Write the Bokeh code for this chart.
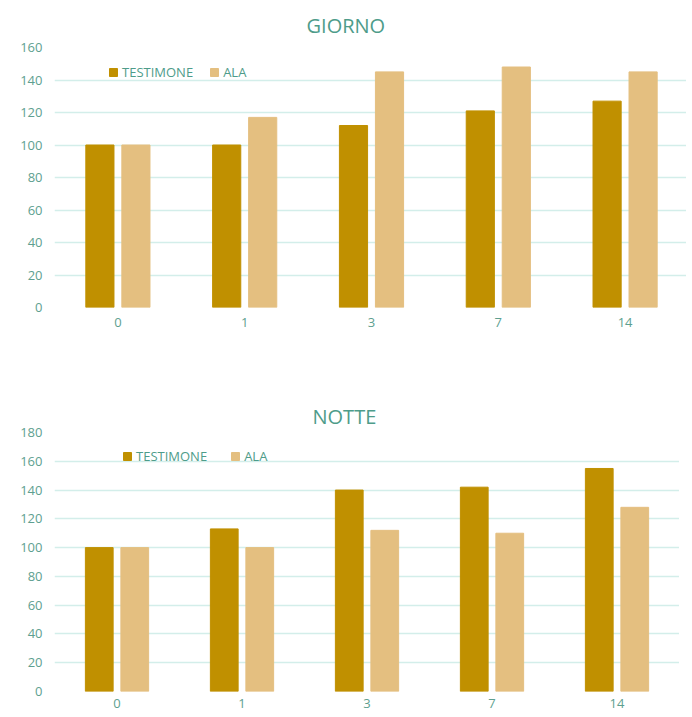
from bokeh.plotting import figure
from bokeh.layouts import column
from bokeh.models import FactorRange, Range1d, SingleIntervalTicker, ColumnDataSource
from bokeh.transform import dodge
from bokeh.embed import file_html
from bokeh.resources import INLINE

days = ["0", "1", "3", "7", "14"]
giorno_testimone = [100, 100, 112, 121, 127]
giorno_ala = [100, 117, 145, 148, 145]
notte_testimone = [100, 113, 140, 142, 155]
notte_ala = [100, 100, 112, 110, 128]

C_T = "#C09000"
C_A = "#E4BF80"
TXT = "#4E9C8A"
TICK = "#5E9F90"
GRID = "#D3EEEA"
FONT = "Open Sans"


def make_chart(title, testimone, ala, ymax, height, border_top, frame_h,
               border_left, frame_w, title_standoff, title_offset, leg_loc,
               leg_spacing, x_standoff):
    src = ColumnDataSource(dict(day=days, testimone=testimone, ala=ala))
    p = figure(x_range=FactorRange(*days, range_padding=0),
               y_range=Range1d(0, ymax),
               frame_width=frame_w, frame_height=frame_h,
               min_border_top=border_top, min_border_left=border_left,
               min_border_right=0,
               min_border_bottom=height - border_top - frame_h,
               output_backend="svg", toolbar_location=None, title=title)
    p.vbar(x=dodge("day", -0.142, range=p.x_range), top="testimone", width=0.222,
           source=src, color=C_T, legend_label="TESTIMONE")
    p.vbar(x=dodge("day", 0.142, range=p.x_range), top="ala", width=0.222,
           source=src, color=C_A, legend_label="ALA")

    p.title.align = "left"
    p.title.offset = title_offset
    p.title.text_font = FONT
    p.title.text_font_size = "20px"
    p.title.text_font_style = "normal"
    p.title.text_color = TXT
    p.title.standoff = title_standoff

    p.outline_line_color = None
    p.xgrid.grid_line_color = None
    p.ygrid.grid_line_color = GRID
    p.ygrid.grid_line_width = 1.3
    p.yaxis.ticker = SingleIntervalTicker(interval=20)
    for ax in (p.xaxis[0], p.yaxis[0]):
        ax.axis_line_color = None
        ax.major_tick_line_color = None
        ax.minor_tick_line_color = None
        ax.major_tick_out = 0
        ax.major_tick_in = 0
        ax.minor_tick_out = 0
        ax.major_label_text_font = FONT
        ax.major_label_text_font_size = "13px"
        ax.major_label_text_color = TICK
    p.yaxis.major_label_standoff = 12
    p.xaxis.major_label_standoff = x_standoff

    lg = p.legend[0]
    lg.location = leg_loc
    lg.orientation = "horizontal"
    lg.border_line_color = None
    lg.background_fill_alpha = 0
    lg.padding = 0
    lg.margin = 0
    lg.glyph_width = 10
    lg.glyph_height = 10
    lg.label_height = 12
    lg.label_standoff = 4
    lg.spacing = leg_spacing
    lg.label_text_font = FONT
    lg.label_text_font_size = "13px"
    lg.label_text_color = TXT
    return p


p1 = make_chart("GIORNO", giorno_testimone, giorno_ala, 160, 366, 47, 260,
                52, 634, 18, 252, (66, 226), 16, 10)
p2 = make_chart("NOTTE", notte_testimone, notte_ala, 180, 350, 66, 259,
                54, 625, 6, 258, (68, 226), 23, 7)

layout = column(p1, p2, spacing=0)
open("out.html", "w").write(file_html(layout, INLINE))
